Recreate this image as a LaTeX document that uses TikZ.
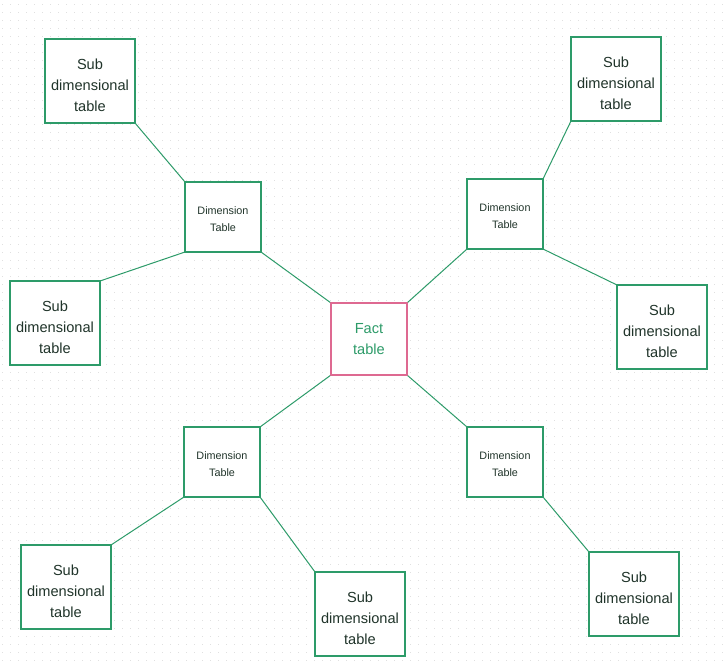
\documentclass[tikz,border=0pt]{standalone}
\usepackage{fontspec}
\setmainfont{Liberation Sans}
\definecolor{edgegreen}{RGB}{45,155,105}
\definecolor{factpink}{RGB}{222,105,145}
\definecolor{textdark}{RGB}{32,52,42}
\definecolor{dotgray}{RGB}{224,224,224}
\tikzset{
  box/.style={draw=edgegreen, line width=1.6pt, fill=white, inner sep=0pt, outer sep=0pt},
  subtxt/.style={align=center, text=textdark, font=\fontsize{14.6}{21}\selectfont, yshift=-4pt},
  dimtxt/.style={align=center, text=textdark, font=\fontsize{10.8}{17}\selectfont, yshift=-2.5pt},
  subbox/.style={box, minimum width=90pt, minimum height=84pt,
    label={[subtxt]center:{Sub\\dimensional\\table}}},
  dimbox/.style={box, minimum width=76pt, minimum height=70pt,
    label={[dimtxt]center:{Dimension\\Table}}},
  factbox/.style={box, draw=factpink, minimum width=76pt, minimum height=72pt, text=edgegreen,
    align=center, font=\fontsize{14.6}{21}\selectfont},
  link/.style={draw=edgegreen, line width=1pt, shorten <=1pt, shorten >=1pt}
}
\begin{document}
\begin{tikzpicture}[x=1pt,y=-1pt]
\useasboundingbox (0,0) rectangle (728,663);
\fill[white] (0,0) rectangle (728,663);
% dotted background grid
\foreach \yy in {0,...,82}{
  \draw[dotgray, line width=1.3pt, dash pattern=on 1.3pt off 6.7pt]
    (2,4.7+8*\yy) -- (728,4.7+8*\yy);
}
% nodes
\node[factbox] (fact) at (369,339) {Fact\\table};
\node[dimbox] (dimTL) at (223,217) {};
\node[dimbox] (dimTR) at (505,214) {};
\node[dimbox] (dimBL) at (222,462) {};
\node[dimbox] (dimBR) at (505,462) {};
\node[subbox] (subTL) at (90,81) {};
\node[subbox] (subL) at (55,323) {};
\node[subbox] (subTR) at (616,79) {};
\node[subbox] (subR) at (662,327) {};
\node[subbox] (subBL) at (66,587) {};
\node[subbox] (subBM) at (360,614) {};
\node[subbox] (subBR) at (634,594) {};
% connectors
\draw[link] (subTL.south east) -- (dimTL.north west);
\draw[link] (dimTL.south west) -- (subL.north east);
\draw[link] (dimTL.south east) -- (fact.north west);
\draw[link] (fact.north east) -- (dimTR.south west);
\draw[link] (dimTR.north east) -- (subTR.south west);
\draw[link] (dimTR.south east) -- (subR.north west);
\draw[link] (fact.south west) -- (dimBL.north east);
\draw[link] (fact.south east) -- (dimBR.north west);
\draw[link] (dimBL.south west) -- (subBL.north east);
\draw[link] (dimBL.south east) -- (subBM.north west);
\draw[link] (dimBR.south east) -- (subBR.north west);
\end{tikzpicture}
\end{document}
